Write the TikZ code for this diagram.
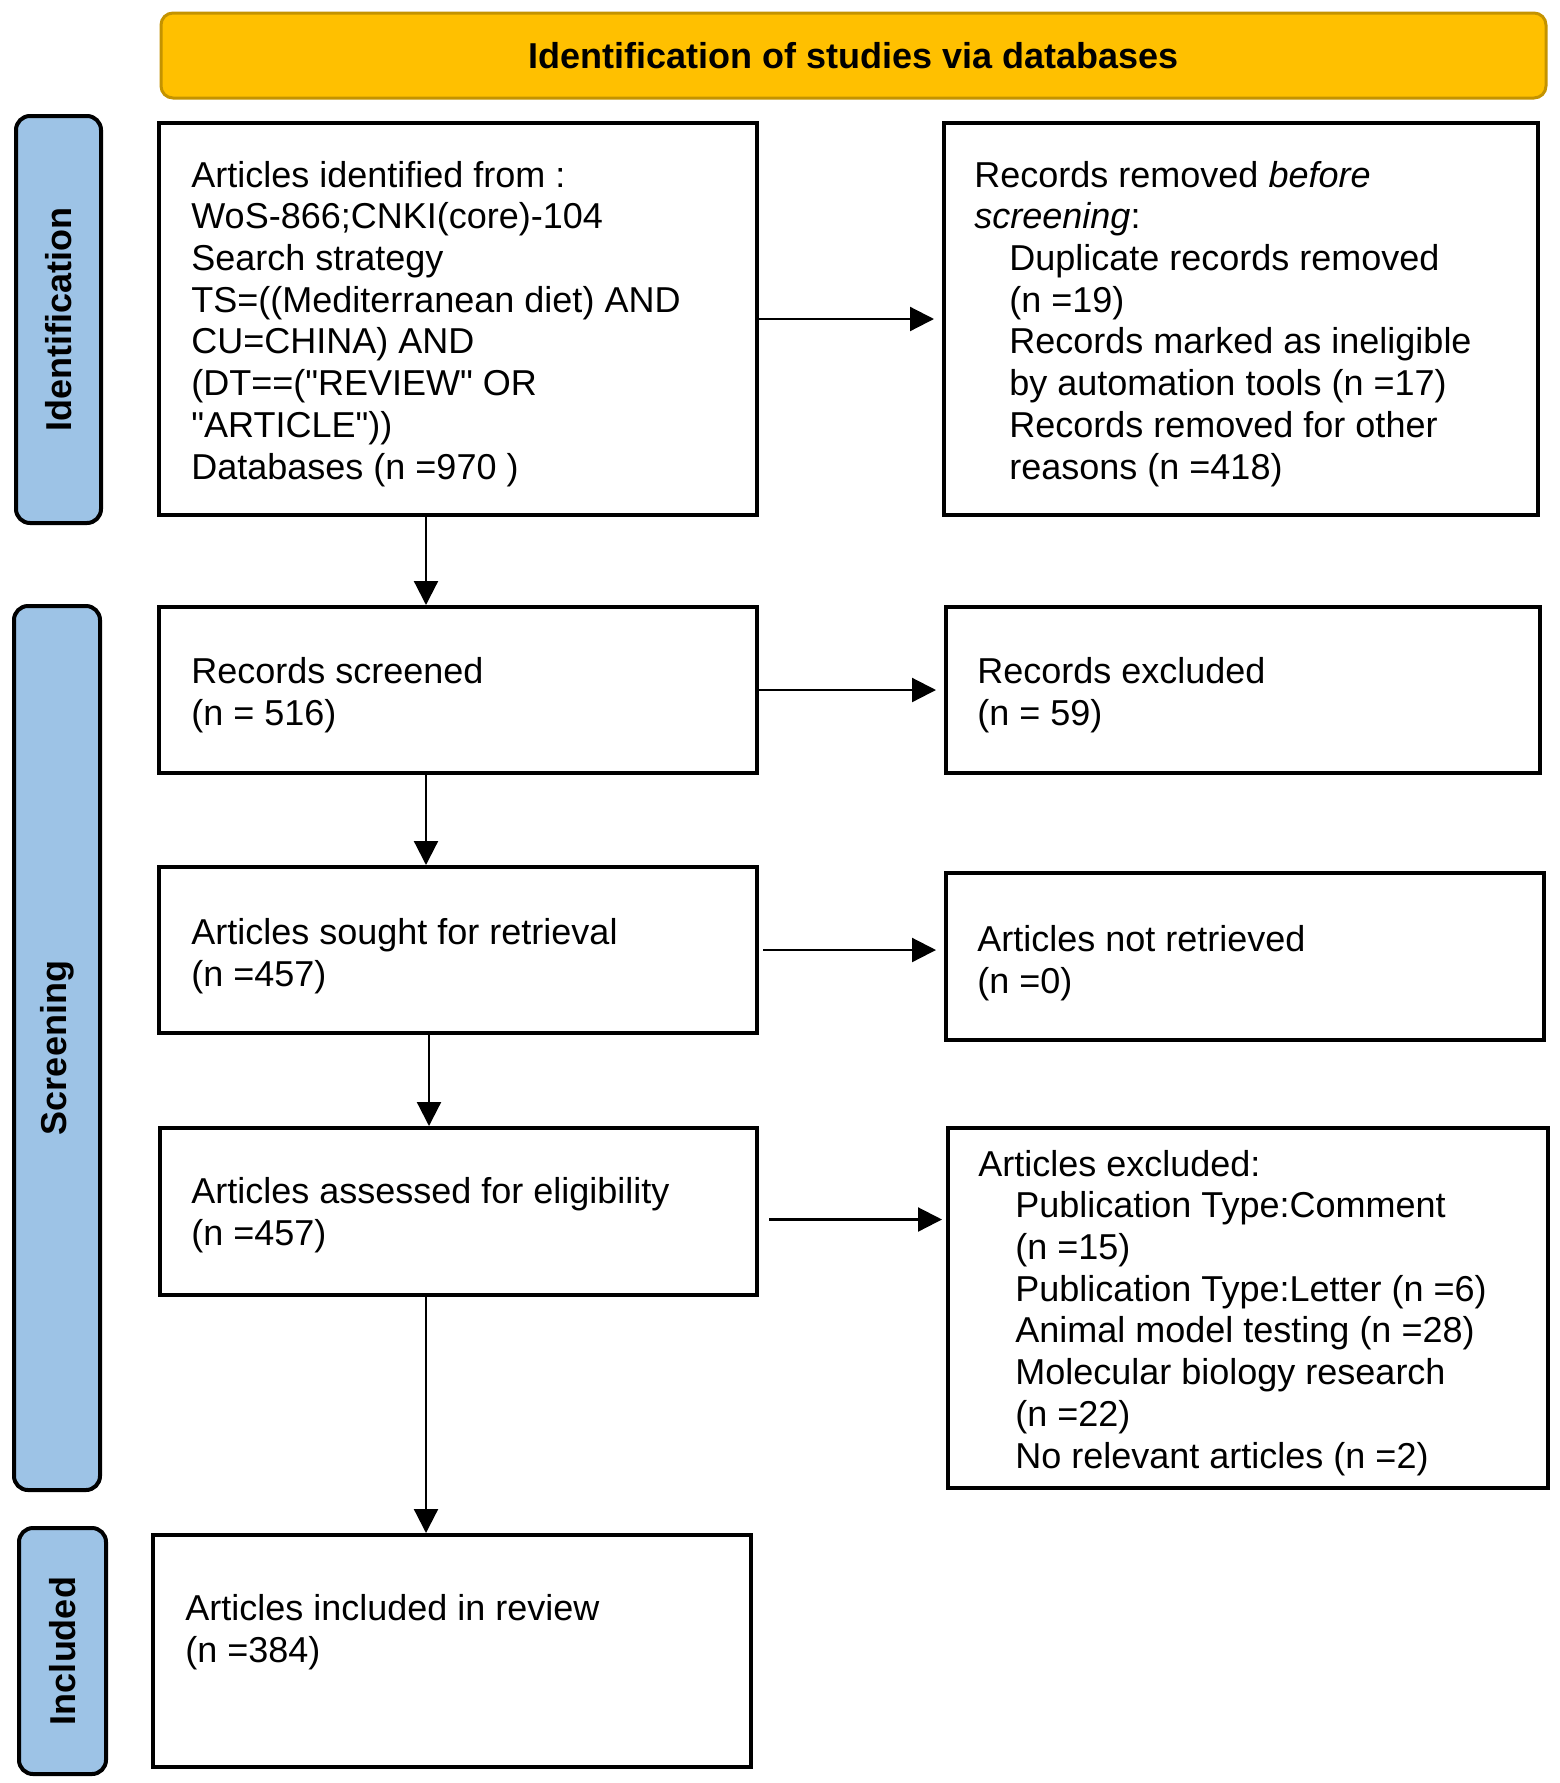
\documentclass[tikz,border=0pt]{standalone}
\usepackage{fontspec}
\setmainfont{Liberation Sans}[Ligatures=TeXOff]
\usetikzlibrary{arrows.meta}
\definecolor{bannerfill}{HTML}{FFC000}
\definecolor{bannerdraw}{HTML}{C49300}
\definecolor{sidefill}{HTML}{9DC3E6}
\begin{document}
\begin{tikzpicture}[x=0.5pt,y=-0.5pt,
  txt/.style={anchor=base west, align=left, inner sep=0pt, font=\fontsize{18pt}{20.85pt}\selectfont},
  boxnode/.style={draw, line width=2pt, fill=white, inner sep=0pt},
  banner/.style={draw=bannerdraw, fill=bannerfill, line width=1.5pt, rounded corners=6pt, inner sep=0pt, font=\fontsize{18pt}{20.85pt}\selectfont\bfseries},
  side/.style={draw=black, fill=sidefill, line width=2pt, rounded corners=7pt, inner sep=0pt, rotate=90, font=\fontsize{18pt}{20.85pt}\selectfont\bfseries},
  arr/.style={line width=1.1pt, -{Triangle[length=12pt,width=12pt]}}
]
\useasboundingbox[fill=white] (0,0) rectangle (1559,1783);

% banner and phase labels
\node[banner, minimum width=692.5pt, minimum height=42.5pt] (ban) at (853.5,55.5) {Identification of studies via databases};
\node[side, minimum width=203.5pt, minimum height=42.5pt] (sid) at (58.5,319.5) {Identification};
\node[side, minimum width=442pt, minimum height=43pt] (sscr) at (57,1048) {Screening};
\node[side, minimum width=123pt, minimum height=43.5pt] (sinc) at (62.5,1651) {Included};

% boxes
\node[boxnode, minimum width=299pt, minimum height=196pt] (b1) at (458,319) {};
\node[boxnode, minimum width=297pt, minimum height=196pt] (b2) at (1241,319) {};
\node[boxnode, minimum width=299pt, minimum height=83pt] (b3) at (458,690) {};
\node[boxnode, minimum width=297pt, minimum height=83pt] (b4) at (1243,690) {};
\node[boxnode, minimum width=299pt, minimum height=83pt] (b5) at (458,950) {};
\node[boxnode, minimum width=299pt, minimum height=83.5pt] (b6) at (1245,956.5) {};
\node[boxnode, minimum width=298.5pt, minimum height=83.5pt] (b7) at (458.5,1211.5) {};
\node[boxnode, minimum width=300pt, minimum height=180pt] (b8) at (1248,1308) {};
\node[boxnode, minimum width=299pt, minimum height=116pt] (b9) at (452,1651) {};

% texts (anchor = baseline of the last line)
\node[txt] (t1) at (191,479) {Articles identified from :\\WoS-866;CNKI(core)-104\\Search strategy\\TS=((Mediterranean diet) AND\\CU=CHINA) AND\\(DT==("REVIEW" OR\\"ARTICLE"))\\Databases (n =970 )};
\node[txt] (t2) at (974,479) {Records removed \textit{before}\\\textit{screening}:\\\hspace*{17.5pt}Duplicate records removed\\\hspace*{17.5pt}(n =19)\\\hspace*{17.5pt}Records marked as ineligible\\\hspace*{17.5pt}by automation tools (n =17)\\\hspace*{17.5pt}Records removed for other\\\hspace*{17.5pt}reasons (n =418)};
\node[txt] (t3) at (191,725) {Records screened\\(n = 516)};
\node[txt] (t4) at (977,725) {Records excluded\\(n = 59)};
\node[txt] (t5) at (191,986) {Articles sought for retrieval\\(n =457)};
\node[txt] (t6) at (977,993) {Articles not retrieved\\(n =0)};
\node[txt] (t7) at (191,1245) {Articles assessed for eligibility\\(n =457)};
\node[txt] (t8) at (978,1468) {Articles excluded:\\\hspace*{18.5pt}Publication Type:Comment\\\hspace*{18.5pt}(n =15)\\\hspace*{18.5pt}Publication Type:Letter (n =6)\\\hspace*{18.5pt}Animal model testing (n =28)\\\hspace*{18.5pt}Molecular biology research\\\hspace*{18.5pt}(n =22)\\\hspace*{18.5pt}No relevant articles (n =2)};
\node[txt] (t9) at (185,1662) {Articles included in review\\(n =384)};

% connectors
\coordinate (vx) at (426,0);
\coordinate (vx2) at (429,0);
\draw[arr] (b1.east) -- ([xshift=-4pt]b1.east -| b2.west);
\draw[arr] (b3.east) -- ([xshift=-4pt]b3.east -| b4.west);
\draw[arr] ([xshift=2pt]b5.east) -- ([xshift=-4pt]b5.east -| b6.west);
\draw[arr] ([xshift=5pt,yshift=-4pt]b7.east) -- ([xshift=-2pt,yshift=-4pt]b7.east -| b8.west);
\draw[arr] (b1.south -| vx) -- (b3.north -| vx);
\draw[arr] (b3.south -| vx) -- (b5.north -| vx);
\draw[arr] (b5.south -| vx2) -- (b7.north -| vx2);
\draw[arr] (b7.south -| vx) -- (b9.north -| vx);
\end{tikzpicture}
\end{document}
